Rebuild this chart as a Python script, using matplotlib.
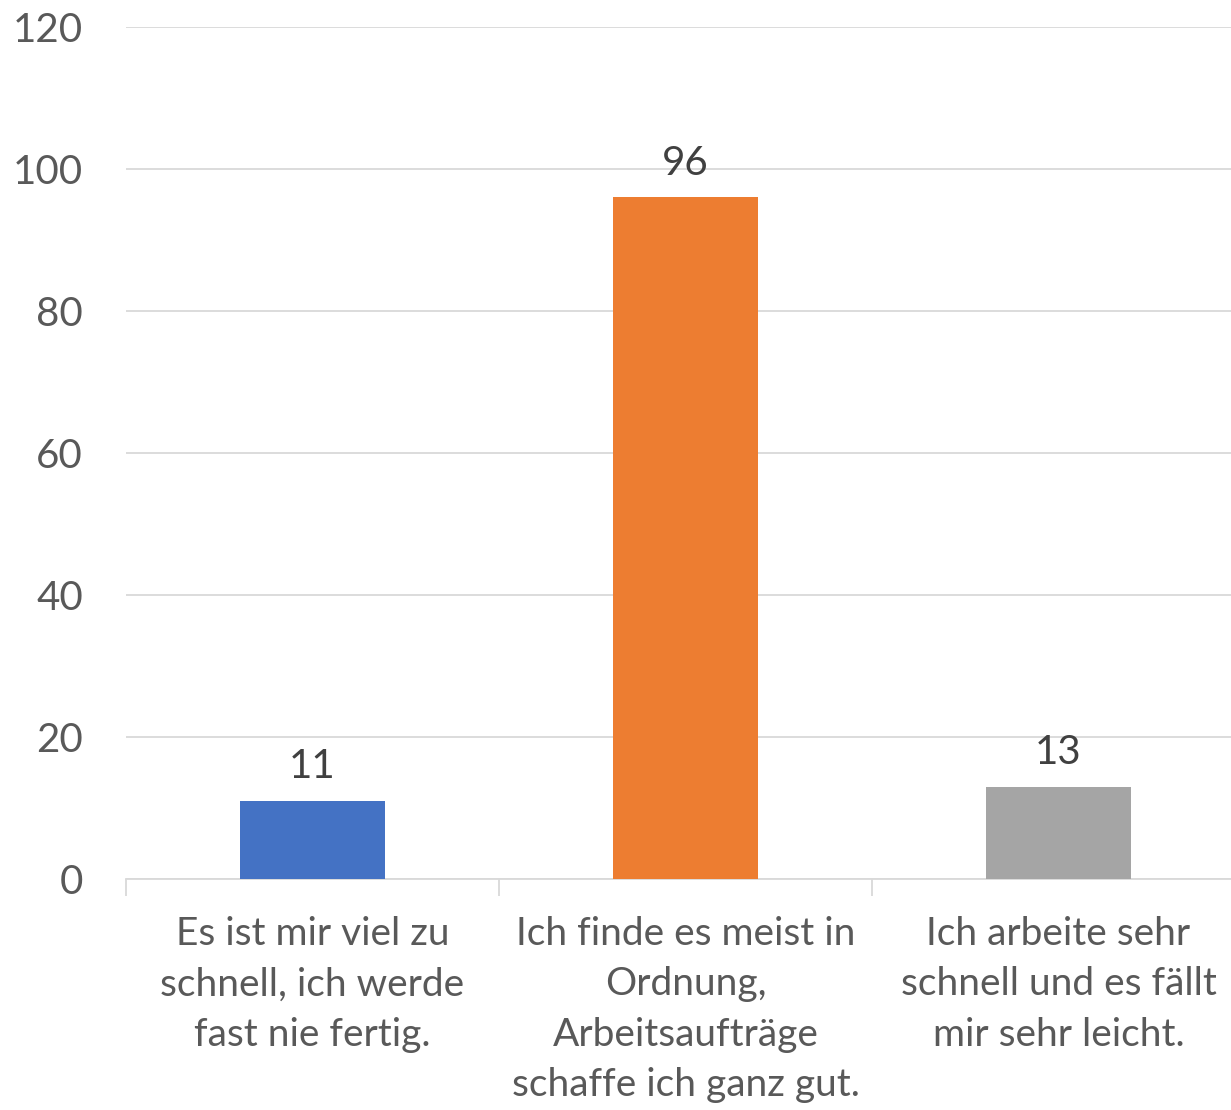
import matplotlib
matplotlib.use("Agg")
import matplotlib.pyplot as plt

categories = ["Es ist mir viel zu\nschnell, ich werde\nfast nie fertig.",
              "Ich finde es meist in\nOrdnung,\nArbeitsaufträge\nschaffe ich ganz gut.",
              "Ich arbeite sehr\nschnell und es fällt\nmir sehr leicht."]
values = [11, 96, 13]
colors = ["#4472C4", "#ED7D31", "#A5A5A5"]
yticks = [0, 20, 40, 60, 80, 100, 120]

plt.rcParams['font.family'] = ['Lato', 'DejaVu Sans']
txt = "#595959"

fig = plt.figure(figsize=(12.31, 11.10), dpi=100)
ax = fig.add_axes([126/1231, 231/1110, 1119/1231, 852/1110])
x = range(len(values))
ax.bar(x, values, width=0.39, color=colors, zorder=3)
for xi, v in zip(x, values):
    ax.text(xi, v + 2.2, str(v), ha="center", va="bottom", fontsize=29, color="#404040")
ax.set_xlim(-0.5, 2.5)
ax.set_ylim(0, 120)
ax.set_yticks(yticks)
ax.set_yticklabels([str(t) for t in yticks], fontsize=29, color=txt)
ax.yaxis.grid(True, color="#D9D9D9", linewidth=1.3, zorder=0)
ax.tick_params(axis="y", length=0, pad=31)
for s in ["top", "right", "left"]:
    ax.spines[s].set_visible(False)
ax.spines["bottom"].set_color("#D9D9D9")
ax.spines["bottom"].set_linewidth(1.3)
ax.set_xticks([-0.5, 0.5, 1.5, 2.5])
ax.set_xticklabels([])
ax.tick_params(axis="x", length=12, color="#D9D9D9", width=1.3)
for xi, c in zip(x, categories):
    ax.text(xi, -5.2, c, ha="center", va="top", fontsize=28, color=txt,
            linespacing=1.5, transform=ax.transData)
fig.savefig("out.png", dpi=100)
